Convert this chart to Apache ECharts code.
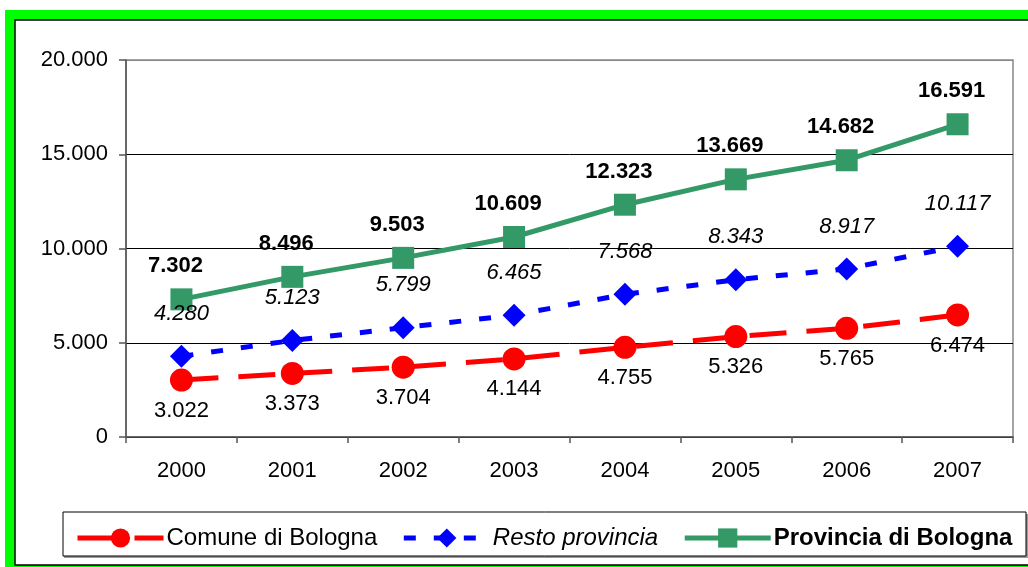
<!DOCTYPE html>
<html>
<head>
<meta charset="utf-8">
<script src="https://cdn.jsdelivr.net/npm/echarts@6/dist/echarts.min.js"></script>
<style>html,body{margin:0;padding:0;background:#fff}#c{width:1028px;height:567px}</style>
</head>
<body>
<div id="c"></div>
<script>
const years = ['2000','2001','2002','2003','2004','2005','2006','2007'];
const comune = [3022, 3373, 3704, 4144, 4755, 5326, 5765, 6474];
const resto = [4280, 5123, 5799, 6465, 7568, 8343, 8917, 10117];
const provincia = [7302, 8496, 9503, 10609, 12323, 13669, 14682, 16591];
const seriesNames = ['Comune di Bologna', 'Resto provincia', 'Provincia di Bologna'];

const FONT = 'Arial, "Liberation Sans", sans-serif';
function fmt(v) { return String(v).replace(/\B(?=(\d{3})+(?!\d))/g, '.'); }

const chart = echarts.init(document.getElementById('c'), null, {renderer: 'canvas'});
chart.setOption({
  animation: false,
  backgroundColor: '#fff',
  graphic: [
    {type: 'rect', z: -100, shape: {x: 5, y: 10, width: 1030, height: 560}, style: {fill: '#00FF00'}},
    {type: 'rect', z: -99, shape: {x: 15, y: 20, width: 1020, height: 545}, style: {fill: '#fff', stroke: '#000', lineWidth: 1.5}},
    {type: 'rect', z: -98, shape: {x: 64, y: 514, width: 964, height: 44}, style: {fill: '#999'}},
    {type: 'rect', z: -97, shape: {x: 63, y: 512, width: 963, height: 44}, style: {fill: '#fff', stroke: '#000', lineWidth: 1}}
  ],
  grid: {left: 126, top: 60, right: 15, bottom: 130, show: true, borderColor: '#888', borderWidth: 1.5, containLabel: false},
  legend: {
    left: 70, top: 521, itemWidth: 86, itemHeight: 24, itemGap: 24,
    lineStyle: {width: 5},
    textStyle: {fontFamily: FONT, fontSize: 24, color: '#000', padding: [0,0,0,-2]},
    data: [
      {name: seriesNames[0]},
      {name: seriesNames[1], textStyle: {fontStyle: 'italic'}},
      {name: seriesNames[2], textStyle: {fontWeight: 'bold'}}
    ]
  },
  xAxis: {
    type: 'category', data: years, boundaryGap: true,
    axisLine: {lineStyle: {color: '#555', width: 1.5}},
    axisTick: {show: true, inside: false, length: 6, lineStyle: {color: '#555', width: 1.5}},
    axisLabel: {fontFamily: FONT, fontSize: 22, color: '#000', margin: 23}
  },
  yAxis: {
    type: 'value', min: 0, max: 20000, interval: 5000,
    axisLine: {show: true, lineStyle: {color: '#555', width: 1.5}},
    axisTick: {show: true, length: 7, lineStyle: {color: '#555', width: 1.5}},
    axisLabel: {fontFamily: FONT, fontSize: 22, color: '#000', margin: 18, formatter: v => fmt(v)},
    splitLine: {show: true, lineStyle: {color: ['#000','#000','#000','#000','#888'], width: 1}}
  },
  series: [
    {
      name: seriesNames[0], type: 'line', data: comune,
      symbol: 'circle', symbolSize: 23, color: '#FF0000',
      lineStyle: {color: '#FF0000', width: 5, type: [37, 20]},
      itemStyle: {color: '#FF0000'},
      label: {show: true, position: 'bottom', distance: 8, fontFamily: FONT, fontSize: 22, color: '#000', formatter: p => fmt(p.value)}
    },
    {
      name: seriesNames[1], type: 'line', data: resto,
      symbol: 'diamond', symbolSize: 23, color: '#0000FF',
      lineStyle: {color: '#0000FF', width: 5, type: [12, 18]},
      itemStyle: {color: '#0000FF'},
      label: {show: true, position: 'top', distance: 20, fontFamily: FONT, fontSize: 22, fontStyle: 'italic', color: '#000', formatter: p => fmt(p.value)}
    },
    {
      name: seriesNames[2], type: 'line', data: provincia,
      symbol: 'rect', symbolSize: 22, color: '#339966',
      lineStyle: {color: '#339966', width: 5, type: 'solid'},
      itemStyle: {color: '#339966'},
      label: {show: true, position: 'top', distance: 11, offset: [-6, 0], fontFamily: FONT, fontSize: 22, fontWeight: 'bold', color: '#000', formatter: p => fmt(p.value)}
    }
  ]
});
</script>
</body>
</html>
